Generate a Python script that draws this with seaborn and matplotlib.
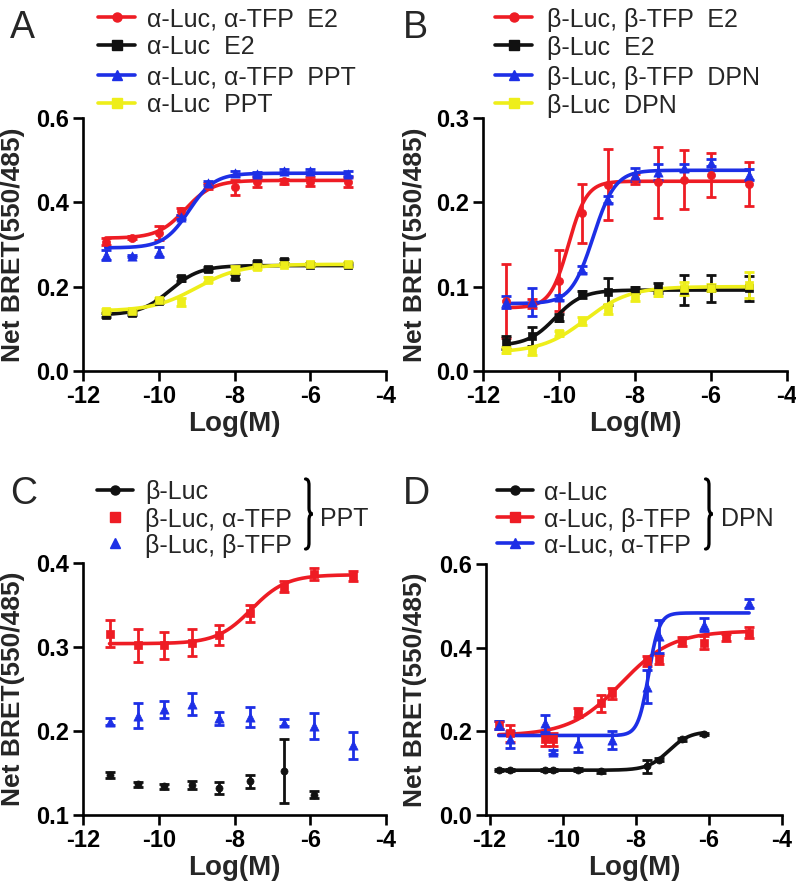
import numpy as np
import matplotlib
matplotlib.use("Agg")
import matplotlib.pyplot as plt
from matplotlib.lines import Line2D
from matplotlib.path import Path
from matplotlib.patches import PathPatch
import seaborn as sns

# ---------------- data ----------------
# Panel A / B concentrations (log M)
xs_ab = [-11.4, -10.7, -10.0, -9.4, -8.7, -8.0, -7.4, -6.7, -6.0, -5.0]

a_red = [0.307, 0.316, 0.327, 0.379, 0.439, 0.436, 0.449, 0.450, 0.449, 0.449]
a_red_err = [0.008, 0.004, 0.017, 0.008, 0.008, 0.018, 0.012, 0.006, 0.010, 0.012]
a_black = [0.133, 0.137, 0.165, 0.220, 0.241, 0.224, 0.257, 0.261, 0.252, 0.252]
a_black_err = [0.004, 0.004, 0.004, 0.006, 0.005, 0.006, 0.004, 0.004, 0.004, 0.004]
a_blue = [0.275, 0.273, 0.283, 0.366, 0.445, 0.469, 0.468, 0.475, 0.475, 0.468]
a_blue_err = [0.012, 0.002, 0.012, 0.005, 0.005, 0.006, 0.005, 0.004, 0.004, 0.006]
a_yellow = [0.143, 0.143, 0.168, 0.164, 0.216, 0.240, 0.247, 0.252, 0.253, 0.253]
a_yellow_err = [0.004, 0.004, 0.006, 0.010, 0.006, 0.008, 0.004, 0.004, 0.004, 0.006]
# 4-parameter fits: bottom, top, logEC50, hill
fit_a_red = [0.315, 0.452, -9.3, 1.2]
fit_a_black = [0.133, 0.250, -9.7, 1.1]
fit_a_blue = [0.292, 0.469, -9.2, 1.3]
fit_a_yellow = [0.142, 0.253, -9.0, 0.75]

b_red = [0.083, 0.080, 0.107, 0.187, 0.221, 0.228, 0.224, 0.227, 0.232, 0.222]
b_red_err = [0.044, 0.005, 0.036, 0.035, 0.042, 0.006, 0.042, 0.035, 0.026, 0.026]
b_black = [0.034, 0.041, 0.063, 0.091, 0.094, 0.096, 0.098, 0.096, 0.098, 0.098]
b_black_err = [0.008, 0.011, 0.004, 0.004, 0.016, 0.004, 0.006, 0.018, 0.016, 0.015]
b_blue = [0.082, 0.082, 0.0875, 0.120, 0.203, 0.233, 0.236, 0.241, 0.247, 0.233]
b_blue_err = [0.007, 0.017, 0.003, 0.004, 0.004, 0.008, 0.010, 0.004, 0.004, 0.006]
b_yellow = [0.025, 0.024, 0.045, 0.059, 0.074, 0.088, 0.093, 0.098, 0.099, 0.102]
b_yellow_err = [0.004, 0.005, 0.003, 0.005, 0.006, 0.005, 0.004, 0.008, 0.004, 0.015]
fit_b_red = [0.075, 0.225, -9.75, 1.8]
fit_b_black = [0.030, 0.096, -10.1, 1.2]
fit_b_blue = [0.080, 0.238, -9.1, 1.5]
fit_b_yellow = [0.022, 0.100, -9.3, 0.75]

# Panel C
xs_c = [-11.3, -10.56, -9.85, -9.13, -8.4, -7.6, -6.7, -5.9, -4.87]
c_red = [0.316, 0.302, 0.302, 0.305, 0.314, 0.340, 0.372, 0.387, 0.384]
c_red_err = [0.016, 0.020, 0.016, 0.016, 0.012, 0.010, 0.006, 0.007, 0.006]
c_blue = [0.211, 0.218, 0.226, 0.232, 0.215, 0.217, 0.210, 0.206, 0.183]
c_blue_err = [0.004, 0.015, 0.010, 0.013, 0.008, 0.012, 0.004, 0.015, 0.016]
xs_c_black = [-11.3, -10.56, -9.85, -9.13, -8.4, -7.6, -6.7, -5.9]
c_black = [0.1476, 0.1365, 0.134, 0.1357, 0.132, 0.140, 0.152, 0.124]
c_black_err = [0.003, 0.003, 0.003, 0.005, 0.007, 0.008, 0.038, 0.004]
fit_c_red = [0.304, 0.386, -7.55, 0.95]

# Panel D
xs_d_black = [-11.75, -11.45, -10.49, -10.27, -9.58, -8.94, -7.69, -7.36, -6.75, -6.13]
d_black = [0.108, 0.108, 0.108, 0.108, 0.108, 0.104, 0.116, 0.132, 0.181, 0.194]
d_black_err = [0.003, 0.003, 0.003, 0.003, 0.004, 0.003, 0.015, 0.004, 0.004, 0.003]
xs_d_red = [-11.75, -11.45, -10.49, -10.27, -9.58, -8.94, -8.64, -7.69, -7.36, -6.75, -6.13, -5.52, -4.9]
d_red = [0.215, 0.195, 0.181, 0.181, 0.245, 0.267, 0.291, 0.367, 0.372, 0.415, 0.412, 0.425, 0.436]
d_red_err = [0.010, 0.020, 0.015, 0.015, 0.010, 0.020, 0.013, 0.012, 0.010, 0.010, 0.015, 0.008, 0.013]
xs_d_blue = [-11.75, -11.45, -10.49, -10.27, -9.58, -8.64, -7.69, -7.36, -6.13, -4.9]
d_blue = [0.215, 0.181, 0.219, 0.151, 0.171, 0.179, 0.307, 0.427, 0.455, 0.506]
d_blue_err = [0.010, 0.020, 0.020, 0.004, 0.020, 0.022, 0.040, 0.040, 0.015, 0.010]
fit_d_black = [0.107, 0.200, -7.1, 1.5]
fit_d_red = [0.19, 0.44, -8.4, 0.62]
fit_d_blue = [0.19, 0.483, -7.65, 3.0]

x_ticks = [-12, -10, -8, -6, -4]
y_ticks_a = [0.0, 0.2, 0.4, 0.6]
y_ticks_b = [0.0, 0.1, 0.2, 0.3]
y_ticks_c = [0.1, 0.2, 0.3, 0.4]
y_ticks_d = [0.0, 0.2, 0.4, 0.6]

legend_a = ["α-Luc, α-TFP  E2", "α-Luc  E2", "α-Luc, α-TFP  PPT", "α-Luc  PPT"]
legend_b = ["β-Luc, β-TFP  E2", "β-Luc  E2", "β-Luc, β-TFP  DPN", "β-Luc  DPN"]
legend_c = ["β-Luc", "β-Luc, α-TFP", "β-Luc, β-TFP"]
legend_d = ["α-Luc", "α-Luc, β-TFP", "α-Luc, α-TFP"]

# ---------------- style ----------------
sns.set_style("ticks")
plt.rcParams['font.family'] = ['Liberation Sans', 'DejaVu Sans']

RED = '#ee1c24'
BLACK = '#111111'
BLUE = '#1d2fe6'
YELLOW = '#eeee1a'

W, H = 796, 890
fig = plt.figure(figsize=(W / 100, H / 100), dpi=100)


def fx(p):
    return p / W


def fy(p):
    return 1 - p / H


def logistic(x, bottom, top, logec, hill):
    return bottom + (top - bottom) / (1 + 10 ** ((logec - x) * hill))


def series(ax, x, y, err, color, marker, fit=None, size=34, z=3):
    ax.errorbar(x, y, yerr=err, fmt='none', ecolor=color, elinewidth=2.0,
                capsize=3.5, capthick=2.0, zorder=z, clip_on=False)
    if fit is not None:
        xx = np.linspace(min(x), max(x), 400)
        sns.lineplot(x=xx, y=logistic(xx, *fit), color=color, lw=2.6, ax=ax,
                     zorder=z, estimator=None)
    sns.scatterplot(x=x, y=y, marker=marker, color=color, s=size, edgecolor=color,
                    linewidth=0.5, ax=ax, zorder=z + 0.5, clip_on=False)


def style_axes(ax, xlim, ylim, yticks):
    ax.set_xlim(*xlim)
    ax.set_ylim(*ylim)
    for s in ['top', 'right']:
        ax.spines[s].set_visible(False)
    for s in ['left', 'bottom']:
        ax.spines[s].set_linewidth(1.9)
        ax.spines[s].set_color('black')
    ax.set_xticks(x_ticks)
    ax.set_xticklabels([f"{t:d}" for t in x_ticks], fontweight='bold', fontsize=17)
    ax.set_yticks(yticks)
    ax.set_yticklabels([f"{t:.1f}" for t in yticks], fontweight='bold', fontsize=17)
    ax.tick_params(direction='out', length=7, width=1.9, pad=3, colors='black')
    ax.set_xlabel("Log(M)", fontweight='bold', fontsize=20, labelpad=2)
    ax.set_ylabel("Net BRET(550/485)", fontweight='bold', fontsize=19,
                  ha='center', va='center')
    ax.patch.set_alpha(0)


def legend_rows(x0, x1, xt, ys, entries, fs=18):
    for y, (label, color, marker, line) in zip(ys, entries):
        if line:
            fig.add_artist(Line2D([fx(x0), fx(x1)], [fy(y), fy(y)], color=color,
                                  lw=2.6, transform=fig.transFigure))
        if marker:
            fig.add_artist(Line2D([fx((x0 + x1) / 2)], [fy(y)], marker=marker,
                                  ms=6.5, color=color, ls='none',
                                  transform=fig.transFigure))
        fig.text(fx(xt), fy(y), label, fontsize=fs, ha='left', va='center_baseline')


def brace(xc, top, bot, w=7, r=6):
    mid = (top + bot) / 2
    pts = [(xc - w / 2, top), (xc, top), (xc, top + r),
           (xc, mid - r),
           (xc, mid), (xc + w / 2, mid), (xc + w / 2, mid),
           (xc, mid), (xc, mid + r),
           (xc, bot - r),
           (xc, bot), (xc - w / 2, bot)]
    codes = [Path.MOVETO, Path.CURVE3, Path.CURVE3,
             Path.LINETO,
             Path.CURVE4, Path.CURVE4, Path.CURVE4,
             Path.CURVE3, Path.CURVE3,
             Path.LINETO,
             Path.CURVE3, Path.CURVE3]
    verts = [(fx(px), fy(py)) for px, py in pts]
    fig.add_artist(PathPatch(Path(verts, codes), fill=False, lw=2.3,
                             edgecolor='black', transform=fig.transFigure,
                             capstyle='round'))


# ---------------- Panel A ----------------
axA = fig.add_axes([fx(83), fy(371), 303 / W, 253 / H])
series(axA, xs_ab, a_red, a_red_err, RED, 'o', fit_a_red)
series(axA, xs_ab, a_black, a_black_err, BLACK, 's', fit_a_black)
series(axA, xs_ab, a_blue, a_blue_err, BLUE, '^', fit_a_blue, size=44)
series(axA, xs_ab, a_yellow, a_yellow_err, YELLOW, 's', fit_a_yellow)
style_axes(axA, (-12, -4), (0, 0.6), y_ticks_a)

# ---------------- Panel B ----------------
axB = fig.add_axes([fx(483), fy(371), 304 / W, 253 / H])
series(axB, xs_ab, b_red, b_red_err, RED, 'o', fit_b_red)
series(axB, xs_ab, b_black, b_black_err, BLACK, 's', fit_b_black)
series(axB, xs_ab, b_blue, b_blue_err, BLUE, '^', fit_b_blue, size=44)
series(axB, xs_ab, b_yellow, b_yellow_err, YELLOW, 's', fit_b_yellow)
style_axes(axB, (-12, -4), (0, 0.3), y_ticks_b)

# ---------------- Panel C ----------------
axC = fig.add_axes([fx(83), fy(815), 303 / W, 252 / H])
series(axC, xs_c, c_red, c_red_err, RED, 's', fit_c_red)
series(axC, xs_c, c_blue, c_blue_err, BLUE, '^', None, size=44)
series(axC, xs_c_black, c_black, c_black_err, BLACK, 'o', None, size=26)
style_axes(axC, (-12, -4), (0.1, 0.4), y_ticks_c)

# ---------------- Panel D ----------------
axD = fig.add_axes([fx(486), fy(815), 296 / W, 251 / H])
series(axD, xs_d_black, d_black, d_black_err, BLACK, 'o', fit_d_black, size=26)
series(axD, xs_d_red, d_red, d_red_err, RED, 's', fit_d_red)
series(axD, xs_d_blue, d_blue, d_blue_err, BLUE, '^', fit_d_blue, size=44)
style_axes(axD, (-12.1, -4), (0, 0.6), y_ticks_d)

# label positions
for ax, lx in [(axA, 13), (axB, 415), (axC, 13), (axD, 415)]:
    bb = ax.get_position()
    ax.yaxis.set_label_coords((fx(lx) - bb.x0) / bb.width, 0.5)

# ---------------- legends ----------------
legend_rows(98, 135, 147, [17, 45, 75, 103],
            [(legend_a[0], RED, 'o', True), (legend_a[1], BLACK, 's', True),
             (legend_a[2], BLUE, '^', True), (legend_a[3], YELLOW, 's', True)])
legend_rows(495, 532, 547, [17, 45, 75, 103],
            [(legend_b[0], RED, 'o', True), (legend_b[1], BLACK, 's', True),
             (legend_b[2], BLUE, '^', True), (legend_b[3], YELLOW, 's', True)])
legend_rows(97, 133, 145, [490, 517, 543],
            [(legend_c[0], BLACK, 'o', True), (legend_c[1], RED, 's', False),
             (legend_c[2], BLUE, '^', False)])
legend_rows(497, 533, 544, [490, 517, 543],
            [(legend_d[0], BLACK, 'o', True), (legend_d[1], RED, 's', True),
             (legend_d[2], BLUE, '^', True)])

brace(309, 479, 549)
fig.text(fx(320), fy(517), "PPT", fontsize=18, ha='left', va='center_baseline')
brace(709, 479, 549)
fig.text(fx(721), fy(517), "DPN", fontsize=18, ha='left', va='center_baseline')

# panel letters
for lbl, px, py in [("A", 10, 28), ("B", 403, 28), ("C", 10, 494), ("D", 403, 494)]:
    fig.text(fx(px), fy(py), lbl, fontsize=27, ha='left', va='center')

fig.savefig("out.png", dpi=100)
